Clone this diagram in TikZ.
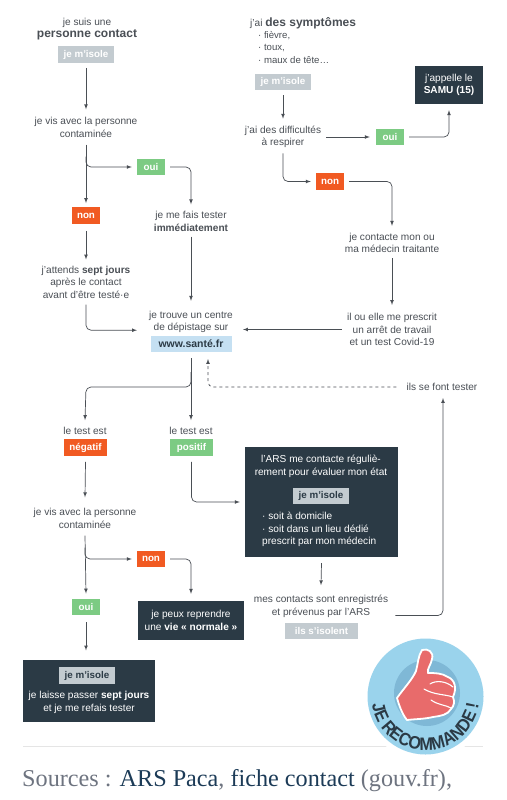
\documentclass[tikz,border=0pt]{standalone}
\usepackage{fontspec}
\setmainfont{Liberation Sans}
\newfontfamily\sourcefont{Liberation Serif}
\newfontfamily\badgefont[FakeStretch=0.9]{Liberation Sans}
\usetikzlibrary{decorations.text}
\definecolor{inkgray}{HTML}{4A4F55}
\definecolor{darkbox}{HTML}{2B3A45}
\definecolor{isolegray}{HTML}{C3CBD0}
\definecolor{ouigreen}{HTML}{7CCB83}
\definecolor{nonorange}{HTML}{F15A22}
\definecolor{urlblue}{HTML}{C5E0F2}
\definecolor{badgeblue}{HTML}{9AD3EC}
\definecolor{badgemid}{HTML}{7FB8D6}
\definecolor{thumbred}{HTML}{E86B6B}
\definecolor{linkblue}{HTML}{1C3B57}
\definecolor{sourcegray}{HTML}{6E7480}
\begin{document}
\begin{tikzpicture}[
        x=1pt,y=-1pt,
        every node/.style={font=\fontsize{10.1}{12.6}\selectfont},
        lbl/.style={text=inkgray,align=center,inner sep=0pt},
        tag/.style={font=\fontsize{9.8}{10}\selectfont\bfseries,text=white,inner sep=0pt,minimum height=16.5pt},
        isole/.style={tag,fill=isolegray,minimum width=56pt},
        isoledark/.style={isole,text=darkbox},
        oui/.style={tag,fill=ouigreen,minimum width=28pt},
        non/.style={tag,fill=nonorange,minimum width=28pt},
        dark/.style={fill=darkbox,text=white,align=center,inner sep=0pt},
        line/.style={draw=inkgray,line width=0.7pt,rounded corners=5pt},
        arrow/.style={line,-latex}
        ]

        \useasboundingbox[fill=white] (0,0) rectangle (506,800);

        % left column, top
        \node [lbl] (contact) at (87,29) {je suis une\\{\fontsize{12}{13.5}\selectfont\bfseries personne contact}};
        \node [isole] (isoleA) at (86,54.5) {je m'isole};
        \node [lbl] (vitA) at (86,127.5) {je vis avec la personne\\contaminée};
        \node [oui] (ouiA) at (151,167) {oui};
        \node [non] (nonA) at (86,215.5) {non};
        \node [lbl] (tester) at (191,221.5) {je me fais tester\\\textbf{immédiatement}};
        \node [lbl] (attends) at (86,282) {j'attends \textbf{sept jours}\\après le contact\\avant d'être testé·e};
        \node [lbl] (centre) at (191,322) {je trouve un centre\\de dépistage sur};
        \node [tag,fill=urlblue,text=darkbox,minimum width=81pt,font=\fontsize{10.5}{11}\selectfont\bfseries] (url) at (191,344) {www.santé.fr};

        % right column, top
        \node [lbl,anchor=west] (sympt) at (250,23) {j'ai {\fontsize{12}{13.5}\selectfont\bfseries des symptômes}};
        \node [lbl,anchor=north west,align=left,font=\fontsize{9.6}{12.6}\selectfont] (liste) at (258,31) {· fièvre,\\· toux,\\· maux de tête…};
        \node [isole] (isoleB) at (283,82) {je m'isole};
        \node [lbl] (respirer) at (283,137) {j'ai des difficultés\\à respirer};
        \node [oui] (ouiB) at (390,137) {oui};
        \node [dark,minimum width=68pt,minimum height=38pt] (samu) at (449,85) {j'appelle le\\\textbf{SAMU (15)}};
        \node [non] (nonB) at (330,181.5) {non};
        \node [lbl] (medecin) at (392,243) {je contacte mon ou\\ma médecin traitante};
        \node [lbl] (prescrit) at (392,329.5) {il ou elle me prescrit\\un arrêt de travail\\et un test Covid-19};
        \node [lbl] (fonttester) at (442,387) {ils se font tester};
        \coordinate (dashend) at (208,359);
        \coordinate (upend) at (443,398);

        % results
        \node [lbl] (testA) at (85,431) {le test est};
        \node [non,minimum width=43pt] (negatif) at (85.5,447.5) {négatif};
        \node [lbl] (testB) at (191,431) {le test est};
        \node [oui,minimum width=43pt] (positif) at (191.5,447.5) {positif};
        \node [lbl] (vitB) at (85,518.5) {je vis avec la personne\\contaminée};
        \node [non] (nonC) at (151,559) {non};
        \node [oui] (ouiC) at (86,607) {oui};
        \node [dark,minimum width=106pt,minimum height=39pt] (normale) at (191,620.5) {je peux reprendre\\une \textbf{vie « normale »}};
        \node [dark,minimum width=132pt,minimum height=62pt] (retest) at (89,691) {};
        \node [isoledark] (isoleC) at (87,675.5) {je m'isole};
        \node [dark,anchor=north] (passer) at (89,691) {je laisse passer \textbf{sept jours}\\et je me refais tester};

        % ARS box
        \node [dark,minimum width=153pt,minimum height=110pt] (ars) at (321.5,502) {};
        \node [dark,anchor=north] (arstext) at (321,455) {l'ARS me contacte réguliè-\\rement pour évaluer mon état};
        \node [isoledark] (isoleD) at (321,496) {je m'isole};
        \node [dark,anchor=north west,align=left] (arsliste) at (262,512) {· soit à domicile\\· soit dans un lieu dédié\\prescrit par mon médecin};
        \node [lbl] (contacts) at (321,606.5) {mes contacts sont enregistrés\\et prévenus par l'ARS};
        \node [isole,minimum width=73pt] (isolent) at (321.5,631) {ils s'isolent};
        \coordinate (fork) at (191,372);
        \coordinate (bend) at (86,387);

        % arrows, left
        \draw [arrow] ([yshift=-5pt]isoleA.south) -- ([yshift=8pt]vitA.north);
        \draw [arrow] ([yshift=-7pt]vitA.south) -- ([yshift=4pt]nonA.north);
        \draw [arrow] ([yshift=-19pt]vitA.south) |- ([xshift=-5pt]ouiA.west);
        \draw [arrow] ([xshift=5pt]ouiA.east) -| ([yshift=7pt]tester.north);
        \draw [arrow] ([yshift=-7pt]nonA.south) -- ([yshift=6pt]attends.north);
        \draw [arrow] ([yshift=-6pt]attends.south) |- ([xshift=-12pt,yshift=3pt]centre.south west);
        \draw [arrow] ([yshift=-5pt]tester.south) -- ([yshift=10pt]centre.north);

        % arrows, right
        \draw [arrow] ([yshift=-5pt]isoleB.south) -- ([yshift=7pt]respirer.north);
        \draw [arrow] ([xshift=5pt]respirer.east) -- ([xshift=-6pt]ouiB.west);
        \draw [arrow] ([xshift=5pt]ouiB.east) -| ([yshift=-6pt]samu.south);
        \draw [arrow] ([yshift=-5pt]respirer.south) |- ([xshift=-5pt]nonB.west);
        \draw [arrow] ([xshift=5pt]nonB.east) -| ([yshift=7pt]medecin.north);
        \draw [arrow] ([yshift=-5pt]medecin.south) -- ([yshift=8pt]prescrit.north);
        \draw [arrow] ([xshift=-5pt]prescrit.west) -- ([xshift=10pt]centre.east |- prescrit.west);
        \draw [arrow,dashed] ([xshift=-10pt]fonttester.west) -| (dashend);

        % arrows, results
        \draw [arrow] ([yshift=-6pt]url.south) -- ([yshift=7pt]testB.north);
        \draw [arrow] (fork) |- (bend) -- ([yshift=7pt]testA.north);
        \draw [arrow] ([yshift=-6pt]negatif.south) -- ([yshift=11pt]vitB.north);
        \draw [arrow] ([yshift=-6pt]positif.south) |- ([xshift=-5pt]ars.west);
        \draw [arrow] ([yshift=-7pt]vitB.south) -- ([yshift=5pt]ouiC.north);
        \draw [arrow] ([yshift=-19pt]vitB.south) |- ([xshift=-5pt]nonC.west);
        \draw [arrow] ([xshift=5pt]nonC.east) -| ([yshift=7pt]normale.north);
        \draw [arrow] ([yshift=-7pt]ouiC.south) -- ++(0,28);
        \draw [arrow] ([yshift=-6pt]ars.south) -- ([yshift=10pt]contacts.north);
        \draw [arrow] ([xshift=7pt,yshift=-9pt]contacts.east) -| (upend);

        % bottom rule and source
        \draw [gray!20,line width=1pt] (23,746.5) -- (483,746.5);
        \node [anchor=west,inner sep=0pt,font=\sourcefont\fontsize{24.2}{26}\selectfont,text=sourcegray] (source) at (22,781) {Sources : \textcolor{linkblue}{ARS Paca}, \textcolor{linkblue}{fiche contact} (gouv.fr),};

        % badge
        \fill [white] (425.5,696.5) circle (63.5);
        \fill [badgeblue] (425.5,696.5) circle (58);
        \fill [badgemid] (427,693) circle (33);
        \filldraw [fill=thumbred,draw=white,line width=1.8pt,line join=round]
            (422,650) .. controls (428,648) and (434,652) .. (432,659)
            .. controls (431,665) and (427,668) .. (428,673)
            .. controls (435,673) and (442,673) .. (448,677)
            .. controls (455,680) and (457,688) .. (453,697)
            .. controls (455,702) and (454,706) .. (451,709)
            .. controls (448,715) and (440,716) .. (433,717)
            .. controls (425,719) and (416,719) .. (407,720)
            .. controls (402,714) and (399,705) .. (397,698)
            .. controls (404,688) and (412,680) .. (416,671)
            .. controls (418,664) and (418,656) .. (422,650) -- cycle;
        \draw [white,line width=1.1pt,line cap=round] (430,684) .. controls (436,680) and (446,681) .. (453,687)
            (424,689) .. controls (434,695) and (444,694) .. (453,697)
            (431,700) .. controls (438,705) and (446,705) .. (451,708);
        \path [decorate,decoration={text along path,text align=center,
            text={|\badgefont\fontsize{18}{20}\selectfont\bfseries\color{darkbox}|JE RECOMMANDE !}}]
            (425.5,696.5) ++(180:54) arc[start angle=180,end angle=0,radius=54];
    \end{tikzpicture}
\end{document}
